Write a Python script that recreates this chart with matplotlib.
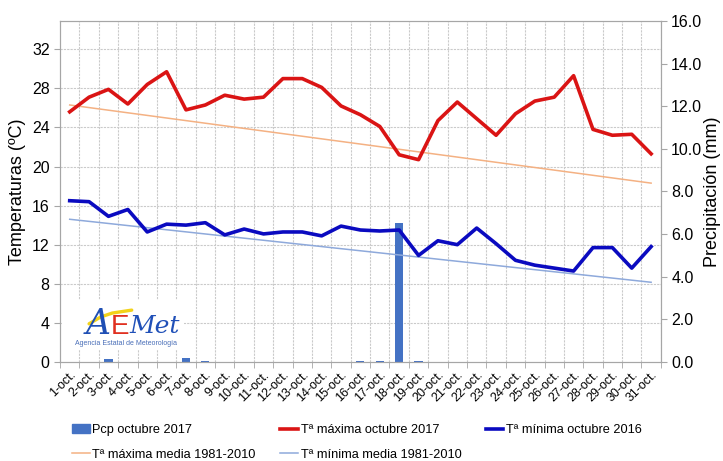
import matplotlib
matplotlib.use("Agg")
import matplotlib.pyplot as plt
from matplotlib.patches import Patch
from matplotlib.lines import Line2D

plt.rcParams['font.family'] = ['Liberation Sans', 'DejaVu Sans']

days = [f"{d}-oct." for d in range(1, 32)]

# Precipitation (mm), October 2017
pcp_2017 = [0, 0, 0.15, 0, 0, 0, 0.2, 0.05, 0, 0, 0, 0, 0, 0, 0, 0.05,
            0.05, 6.5, 0.05, 0, 0, 0, 0, 0, 0, 0, 0, 0, 0, 0, 0]

# Max temperature October 2017
tmax_2017 = [25.6, 27.1, 27.9, 26.4, 28.4, 29.7, 25.8, 26.3, 27.3, 26.9,
             27.1, 29.0, 29.0, 28.1, 26.2, 25.3, 24.1, 21.2, 20.7, 24.7,
             26.6, 24.9, 23.2, 25.4, 26.7, 27.1, 29.3, 23.8, 23.2, 23.3, 21.3]

# Min temperature October 2016
tmin_2016 = [16.5, 16.4, 14.9, 15.6, 13.3, 14.1, 14.0, 14.25, 13.0, 13.6,
             13.1, 13.3, 13.3, 12.9, 13.9, 13.5, 13.4, 13.5, 10.9, 12.4,
             12.0, 13.7, 12.1, 10.4, 9.9, 9.6, 9.3, 11.7, 11.7, 9.6, 11.8]

# Climatological means 1981-2010 (straight lines, first and last day)
tmax_media_ends = [26.3, 18.3]
tmin_media_ends = [14.6, 8.15]

n = len(days)
x = list(range(n))
tmax_media = [tmax_media_ends[0] + (tmax_media_ends[1] - tmax_media_ends[0]) * i / (n - 1) for i in x]
tmin_media = [tmin_media_ends[0] + (tmin_media_ends[1] - tmin_media_ends[0]) * i / (n - 1) for i in x]

c_bar = '#4472C4'
c_max = '#DA1414'
c_min = '#0A0AC0'
c_max_m = '#F4B183'
c_min_m = '#8EA9DB'
c_axis = '#A6A6A6'
c_grid = '#CACACA'

fig = plt.figure(figsize=(7.23, 4.61), dpi=100)
ax = fig.add_axes([0.083, 0.215, 0.831, 0.7395])
ax2 = ax.twinx()

# bars on the secondary axis (drawn behind the lines)
ax2.bar(x, pcp_2017, width=0.42, color=c_bar, zorder=2)
ax2.set_ylim(0, 16)
ax2.set_yticks([0, 2, 4, 6, 8, 10, 12, 14, 16])
ax2.set_yticklabels([f"{v:.1f}" for v in range(0, 17, 2)])
ax2.set_ylabel('Precipitación (mm)', fontsize=13, labelpad=1)

ax.set_zorder(ax2.get_zorder() + 1)
ax.patch.set_visible(False)

ax.plot(x, tmax_media, color=c_max_m, lw=1.1, zorder=3)
ax.plot(x, tmin_media, color=c_min_m, lw=1.1, zorder=3)
ax.plot(x, tmax_2017, color=c_max, lw=2.6, zorder=4)
ax.plot(x, tmin_2016, color=c_min, lw=2.6, zorder=4)

ax.set_xlim(-0.5, n - 0.5)
ax.set_ylim(0, 34.9)
ax.set_yticks(range(0, 33, 4))
ax.set_ylabel('Temperaturas (ºC)', fontsize=13, labelpad=4)

ax.set_xticks(x)
ax.set_xticklabels(days, rotation=45, ha='right', rotation_mode='anchor', fontsize=9)
ax.tick_params(axis='x', length=0, pad=5)
ax.set_xticks([i + 0.5 for i in range(-1, n)], minor=True)
ax.tick_params(axis='x', which='minor', length=4, color=c_axis)
ax.tick_params(axis='y', labelsize=11.5, color=c_axis, length=4)
ax2.tick_params(axis='y', labelsize=11.5, color=c_axis, length=4)

# grid (on the back axes)
for v in range(4, 36, 4):
    ax2.axhline(v * 16 / 34.9, color=c_grid, lw=0.8, ls=(0, (2, 1)), zorder=0)
for i in range(n):
    ax2.axvline(i + 0.5, color=c_grid, lw=0.8, ls=(0, (2, 1)), zorder=0)

for a in (ax, ax2):
    for s in a.spines.values():
        s.set_color(c_axis)

# logo
ax.add_patch(plt.Rectangle((-0.4, 1.2), 6.3, 5.1, facecolor='white', edgecolor='none', zorder=1))
ax.plot([1.0, 1.6, 2.2, 3.2], [3.9, 4.6, 5.0, 5.3], color='#F2D21A', lw=2.4,
        solid_capstyle='round', zorder=5)
ax.text(1.45, 2.85, 'A', fontsize=25, style='italic', color='#1F4FB4', zorder=6, ha='center',
        va='baseline', family='DejaVu Serif')
ax.text(2.62, 2.85, 'E', fontsize=20, color='#E03020', zorder=6, ha='center', va='baseline',
        family='Liberation Sans')
ax.text(3.1, 2.95, 'Met', fontsize=18, style='italic', color='#2050B8', zorder=6, ha='left',
        va='baseline', family='DejaVu Serif')
ax.text(0.26, 1.85, 'Agencia Estatal de Meteorología', fontsize=5.0, color='#4A6FB8', zorder=6,
        va='center')

handles = [
    Patch(color=c_bar, label='Pcp octubre 2017'),
    Line2D([], [], color=c_max_m, lw=1.1, label='Tª máxima media 1981-2010'),
    Line2D([], [], color=c_max, lw=2.6, label='Tª máxima octubre 2017'),
    Line2D([], [], color=c_min_m, lw=1.1, label='Tª mínima media 1981-2010'),
    Line2D([], [], color=c_min, lw=2.6, label='Tª mínima octubre 2016'),
]
fig.legend(handles=handles, ncol=3, loc='upper left', bbox_to_anchor=(0.0996, 0.08),
           frameon=False, fontsize=9.2, handlelength=1.4, handletextpad=0.2,
           columnspacing=1.9, labelspacing=1.0, borderaxespad=0, borderpad=0)

fig.savefig('out.png', dpi=100)
